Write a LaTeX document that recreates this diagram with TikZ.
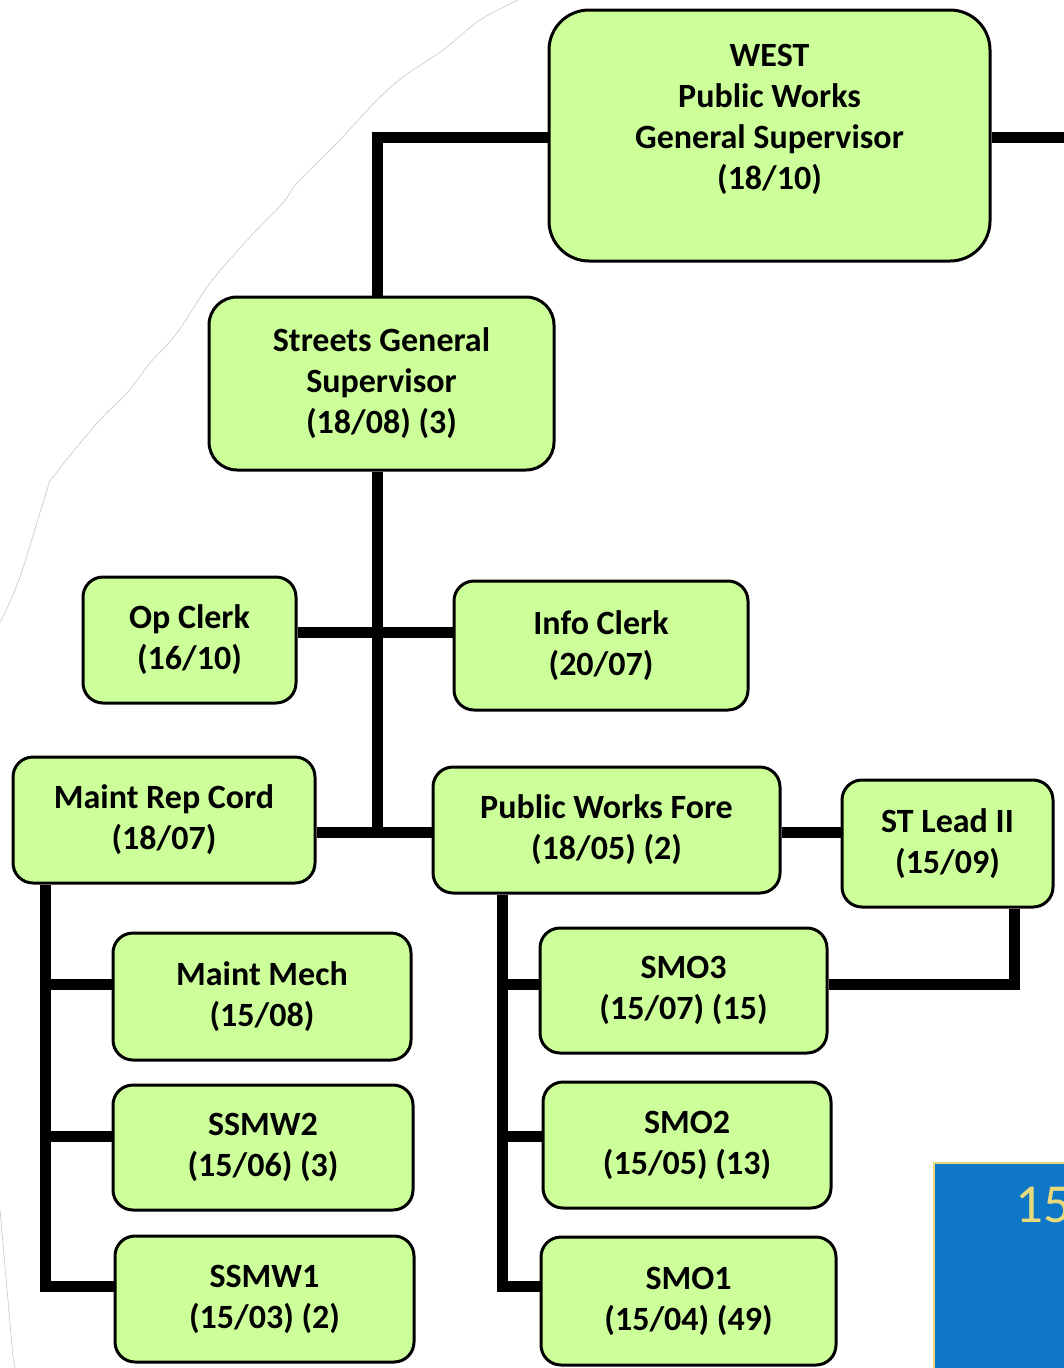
\documentclass[tikz,border=0pt]{standalone}
\usepackage{fontspec}
\setmainfont{Carlito}
\definecolor{boxgreen}{HTML}{CCFF99}
\definecolor{tileblue}{HTML}{0E77C8}
\definecolor{tileyellow}{HTML}{E8DA7A}
\pgfdeclarelayer{bg}
\pgfsetlayers{bg,main}
\begin{document}
\begin{tikzpicture}[x=1pt,y=-1pt,
  box/.style={draw=black, line width=3pt, fill=boxgreen, rounded corners=20pt,
    inner sep=0pt, align=center, font=\bfseries\fontsize{34}{41}\selectfont},
  conn/.style={line width=11pt, draw=black},
  faint/.style={draw=black!22, line width=0.6pt}]
\useasboundingbox (0,0) rectangle (1064,1368);
\clip (0,0) rectangle (1064,1368);

% faint background outline
\draw[faint] plot[smooth, tension=0.5] coordinates {(518,0) (480,20) (443,50) (403,77) (377,100) (337,143) (297,183) (283,203) (250,237) (210,283) (177,333) (150,363) (127,393) (97,423) (53,477) (47,490) (20,577) (0,623)};
\draw[faint] (0,1210) -- (13,1357) -- (15,1368);

% coordinates for connectors
\coordinate (jtop) at (377,137);
\coordinate (jmid) at (377,632);
\coordinate (jlow) at (377,832);
\coordinate (westout) at (1080,137);
\coordinate (stbend) at (1014,984);
\coordinate (l1) at (45.5,984);
\coordinate (l2) at (45.5,1136);
\coordinate (l3) at (45.5,1286);
\coordinate (r1) at (502.5,984);
\coordinate (r2) at (502.5,1136);
\coordinate (r3) at (502.5,1286);

% boxes
\node[box, rounded corners=40pt, minimum width=441pt, minimum height=251pt] (west) at (769.5,135.5)
  {WEST\\Public Works\\General Supervisor\\(18/10)\\[-4pt]\mbox{}};
\node[box, rounded corners=28pt, minimum width=345pt, minimum height=173pt] (sgs) at (381.5,383.5)
  {Streets General\\Supervisor\\(18/08) (3)};
\node[box, minimum width=213pt, minimum height=126pt] (opc) at (189.5,640) {Op Clerk\\(16/10)};
\node[box, minimum width=294pt, minimum height=129pt] (ic) at (601,645.5) {Info Clerk\\(20/07)};
\node[box, minimum width=302pt, minimum height=126pt] (mrc) at (164,820) {Maint Rep Cord\\(18/07)};
\node[box, minimum width=347pt, minimum height=126pt] (pwf) at (606.5,830) {Public Works Fore\\(18/05) (2)};
\node[box, minimum width=211pt, minimum height=127pt] (stl) at (947.5,843.5) {ST Lead II\\(15/09)};
\node[box, minimum width=298pt, minimum height=127pt] (mm) at (262,996.5) {Maint Mech\\(15/08)};
\node[box, minimum width=300pt, minimum height=125pt] (ssmw2) at (263,1147.5) {SSMW2\\(15/06) (3)};
\node[box, minimum width=299pt, minimum height=126pt] (ssmw1) at (264.5,1299) {SSMW1\\(15/03) (2)};
\node[box, minimum width=287pt, minimum height=125pt] (smo3) at (683.5,990.5) {SMO3\\(15/07) (15)};
\node[box, minimum width=288pt, minimum height=126pt] (smo2) at (687,1145) {SMO2\\(15/05) (13)};
\node[box, minimum width=295pt, minimum height=128pt] (smo1) at (688.5,1301) {SMO1\\(15/04) (49)};

% connectors (behind boxes)
\begin{pgfonlayer}{bg}
\draw[conn] (west.west |- jtop) -- (jtop) -- (sgs.north -| jtop);
\draw[conn] (west.east |- westout) -- (westout);
\draw[conn] (sgs.south -| jlow) -- (jlow);
\draw[conn] (opc.east |- jmid) -- (ic.west |- jmid);
\draw[conn] (mrc.east |- jlow) -- (pwf.west |- jlow);
\draw[conn] (pwf.east |- jlow) -- (stl.west |- jlow);
\draw[conn] (stl.south -| stbend) -- (stbend) -- (smo3.east |- stbend);
\draw[conn] (mrc.south -| l3) -- (l3) -- (ssmw1.west |- l3);
\draw[conn] (l1) -- (mm.west |- l1);
\draw[conn] (l2) -- (ssmw2.west |- l2);
\draw[conn] (pwf.south -| r3) -- (r3) -- (smo1.west |- r3);
\draw[conn] (r1) -- (smo3.west |- r1);
\draw[conn] (r2) -- (smo2.west |- r2);
\end{pgfonlayer}

% blue tile (cut off at the page edge, as in the reference)
\node[draw=tileyellow, line width=1.5pt, fill=tileblue, minimum width=160pt, minimum height=230pt, anchor=north west, inner sep=0pt] (tile) at (933,1162) {};
\node[text=tileyellow, font=\fontsize{55}{60}\selectfont, anchor=base west, inner sep=0pt] (pagenum) at (1015,1222) {15};
\end{tikzpicture}
\end{document}
